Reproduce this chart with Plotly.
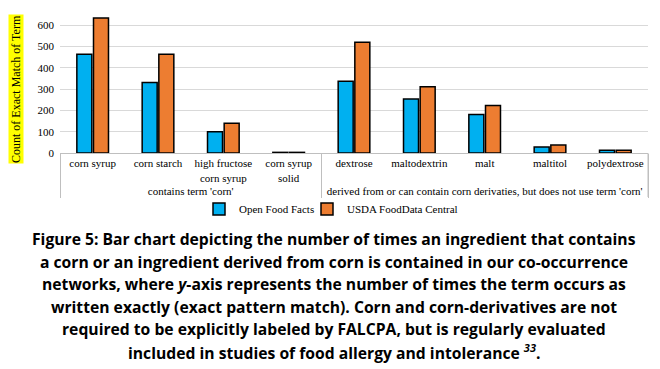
import plotly.graph_objects as go

groups = ["contains term 'corn'"] * 4 + [
    "derived from or can contain corn derivaties, but does not use term 'corn'"] * 5
ingredients = ["corn syrup", "corn starch", "high fructose<br>corn syrup", "corn syrup<br>solid",
               "dextrose", "maltodextrin", "malt", "maltitol", "polydextrose"]
open_food_facts = [463, 331, 100, 3, 337, 253, 181, 28, 13]
usda_fooddata = [633, 463, 139, 3, 519, 311, 223, 37, 13]
y_ticks = [0, 100, 200, 300, 400, 500, 600]

W, H = 660, 369
L, R, T, B = 60, 12, 8, 216
PW, PH = W - L - R, H - T - B


def px(x):
    return (x - L) / PW


def py(y):
    return (H - B - y) / PH


serif = "Liberation Serif"

fig = go.Figure()
fig.add_trace(go.Bar(
    x=[groups, ingredients], y=open_food_facts, name="Open Food Facts",
    marker=dict(color="#00B0F0", line=dict(color="black", width=1.5)),
    legend="legend",
))
fig.add_trace(go.Bar(
    x=[groups, ingredients], y=usda_fooddata, name="USDA FoodData Central",
    marker=dict(color="#ED7D31", line=dict(color="black", width=1.5)),
    legend="legend2",
))

leg_common = dict(orientation="h", xref="container", yref="container",
                  xanchor="left", y=1 - 209 / H, yanchor="middle",
                  font=dict(family=serif, size=11, color="black"),
                  bgcolor="rgba(0,0,0,0)", itemwidth=30)

fig.update_layout(
    width=W, height=H,
    margin=dict(l=L, r=R, t=T, b=B, pad=0, autoexpand=False),
    paper_bgcolor="white", plot_bgcolor="white",
    barmode="group", bargap=0.49, bargroupgap=0.1,
    font=dict(family=serif, size=11, color="black"),
    showlegend=True,
    legend=dict(x=(241 - 40 - 2) / W, **leg_common),
    legend2=dict(x=(349 - 40 - 2) / W, **leg_common),
)
fig.update_xaxes(
    type="multicategory", showline=True, linecolor="#BFBFBF", linewidth=1,
    ticks="", showdividers=True, dividercolor="#BFBFBF", dividerwidth=1,
    tickfont=dict(family=serif, size=11, color="black"), showgrid=False,
    tickangle=0, automargin=False,
)
fig.update_yaxes(
    range=[0, 680], tickvals=y_ticks, showgrid=True, gridcolor="#D9D9D9", gridwidth=1,
    zeroline=False, showline=False, ticks="", automargin=False,
    tickfont=dict(family=serif, size=11, color="black"), ticklabelstandoff=5,
)

# right-hand closing divider of the category axis
fig.add_shape(type="line", xref="paper", yref="paper", x0=1, x1=1, y0=0, y1=py(197),
              line=dict(color="#BFBFBF", width=1))

fig.add_annotation(
    text="Count of Exact Match of Term", textangle=-90,
    xref="paper", yref="paper", x=px(16), y=py(89), xanchor="center", yanchor="middle",
    showarrow=False, bgcolor="#FFFF00", borderpad=0,
    font=dict(family=serif, size=12, color="black"),
)

caption = [
    "Figure 5: Bar chart depicting the number of times an ingredient that contains",
    "a corn or an ingredient derived from corn is contained in our co-occurrence",
    "networks, where <i>y</i>-axis represents the number of times the term occurs as",
    "written exactly (exact pattern match). Corn and corn-derivatives are not",
    "required to be explicitly labeled by FALCPA, but is regularly evaluated",
    "included in studies of food allergy and intolerance <sup><i>33</i></sup>.",
]
line_y = [239, 261.5, 284, 306.5, 329, 351.5]
for txt, yy in zip(caption, line_y):
    fig.add_annotation(
        text="<b>" + txt + "</b>", xref="paper", yref="paper",
        x=px(334), y=py(yy), xanchor="center", yanchor="middle", showarrow=False,
        font=dict(family="Open Sans", size=15.7, color="black"),
    )

fig.write_html("out.html", post_script="document.body.style.margin='0px';",
               config={"displayModeBar": False})
